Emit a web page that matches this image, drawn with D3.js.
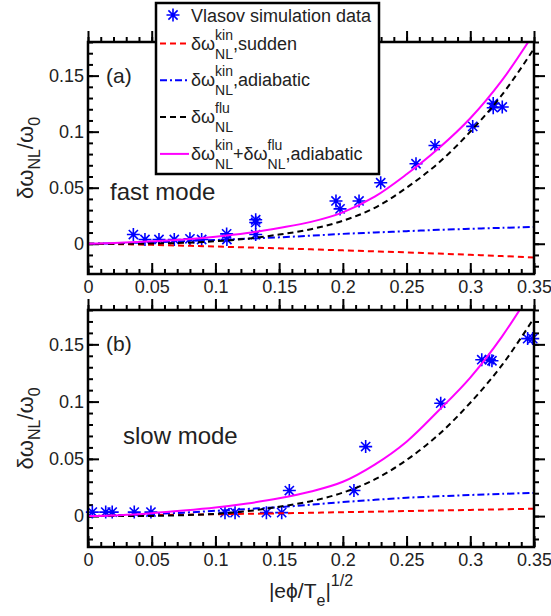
<!DOCTYPE html>
<meta charset="utf-8">
<style>
  body { margin: 0; background: #fff; }
  text { font-family: "Liberation Sans", Arial, Helvetica, sans-serif; fill: #222; }
</style>
<svg width="551" height="616"></svg>
<script src="https://d3js.org/d3.v7.min.js"></script>
<script>

var curveX = [0, 0.025, 0.05, 0.075, 0.1, 0.125, 0.15, 0.175, 0.2, 0.225, 0.25, 0.275, 0.3, 0.325, 0.35];

// (a) fast mode
var fastSudden = [0, -0.0004, -0.001, -0.0017, -0.0025, -0.0033, -0.0041, -0.005, -0.0059, -0.0068, -0.0077, -0.0088, -0.0099, -0.011, -0.0123];
var fastKinAdiab = [0, 0.0005, 0.0013, 0.0023, 0.0033, 0.0045, 0.0057, 0.0072, 0.0088, 0.0100, 0.0112, 0.0124, 0.0133, 0.0142, 0.015];
var fastFlu = [0, 0.00001, 0.00015, 0.0008, 0.0022, 0.0045, 0.0082, 0.013, 0.0205, 0.032, 0.050, 0.072, 0.100, 0.133, 0.174];
var fastSum = [0, 0.0008, 0.0022, 0.0038, 0.0062, 0.0095, 0.0141, 0.0195, 0.028, 0.042, 0.062, 0.085, 0.112, 0.146, 0.188];
var fastSimX = [0.0356, 0.0447, 0.0557, 0.0677, 0.080, 0.0892, 0.1088, 0.109, 0.1316, 0.1316, 0.1316, 0.1946, 0.1978, 0.2127, 0.2297, 0.2574, 0.2723, 0.3019, 0.318, 0.318, 0.3251];
var fastSimY = [0.0082, 0.0038, 0.0038, 0.0038, 0.0044, 0.0038, 0.0088, 0.0038, 0.0214, 0.019, 0.0082, 0.0382, 0.0311, 0.0382, 0.0544, 0.0714, 0.0876, 0.1047, 0.1252, 0.1214, 0.122];

// (b) slow mode
var slowSudden = [0, 0.0004, 0.0008, 0.0012, 0.0016, 0.0020, 0.0024, 0.0029, 0.0034, 0.0039, 0.0044, 0.0049, 0.0054, 0.0059, 0.0064];
var slowKinAdiab = [0, 0.0008, 0.0018, 0.003, 0.0046, 0.0062, 0.0078, 0.0100, 0.0122, 0.0142, 0.016, 0.0173, 0.0184, 0.0194, 0.0203];
var slowFlu = [0, 0.00001, 0.00015, 0.0008, 0.002, 0.0043, 0.0082, 0.013, 0.0205, 0.032, 0.049, 0.071, 0.099, 0.132, 0.173];
var slowSum = [0, 0.0008, 0.0025, 0.0048, 0.0075, 0.011, 0.0155, 0.0215, 0.030, 0.045, 0.065, 0.092, 0.121, 0.157, 0.200];
var slowSimX = [0.0034, 0.0139, 0.019, 0.0363, 0.0494, 0.1075, 0.1154, 0.140, 0.152, 0.158, 0.2087, 0.2179, 0.2768, 0.309, 0.315, 0.317, 0.345, 0.349];
var slowSimY = [0.0035, 0.0035, 0.0035, 0.0035, 0.0035, 0.003, 0.003, 0.003, 0.003, 0.0223, 0.0223, 0.0607, 0.0986, 0.1366, 0.1366, 0.1357, 0.155, 0.155];

var xMajor = [0, 0.05, 0.1, 0.15, 0.2, 0.25, 0.3, 0.35];
var xMinor = d3.range(0, 36).map(function (i) { return i / 100; });
var yMajor = [0, 0.05, 0.1, 0.15];
var yMinor = d3.range(-2, 19).map(function (i) { return i / 100; });

var svg = d3.select("svg");
var left = 88, right = 534;

var x = d3.scaleLinear().domain([0, 0.35]).range([left, right]);

var star = "M-6.5,0L6.5,0M0,-6.5L0,6.5M-4.6,-4.6L4.6,4.6M-4.6,4.6L4.6,-4.6";

var styles = {
    sudden: {stroke: "#ff0000", dash: "6,4"},
    kin: {stroke: "#0000ff", dash: "7,3,2,3"},
    flu: {stroke: "#000000", dash: "6,4"},
    sum: {stroke: "#ff00ff", dash: null}
};

function drawPanel(id, top, bottom, curves, simX, simY, tag, mode, modeX, modeY) {
    var y = d3.scaleLinear().domain([-0.027, 0.18]).range([bottom, top]);
    var g = svg.append("g");

    g.append("clipPath").attr("id", "clip" + id)
        .append("rect").attr("x", left).attr("y", top)
        .attr("width", right - left).attr("height", bottom - top);

    // ticks pointing inward, on all four sides
    function ticks(axis, trans, vals, len, labels) {
        var a = g.append("g").attr("transform", trans)
            .call(axis.tickValues(vals).tickSize(-len).tickPadding(labels ? 6 : 0)
                .tickFormat(labels ? d3.format("") : ""));
        a.select(".domain").remove();
        a.selectAll("line").attr("stroke", "#000").attr("stroke-width", 2);
        a.selectAll("text").style("font-size", "18px").attr("fill", "#222");
        return a;
    }
    ticks(d3.axisBottom(x), "translate(0," + bottom + ")", xMinor, 5, false);
    ticks(d3.axisBottom(x), "translate(0," + bottom + ")", xMajor, 11, true);
    ticks(d3.axisTop(x), "translate(0," + top + ")", xMinor, -5, false);
    ticks(d3.axisTop(x), "translate(0," + top + ")", xMajor, -11, false);
    ticks(d3.axisLeft(y), "translate(" + left + ",0)", yMinor, 5, false);
    ticks(d3.axisLeft(y), "translate(" + left + ",0)", yMajor, 11, true).selectAll("text").attr("x", -4);
    ticks(d3.axisRight(y), "translate(" + right + ",0)", yMinor, -5, false);
    ticks(d3.axisRight(y), "translate(" + right + ",0)", yMajor, -11, false);

    // simulation points
    g.selectAll(".sim").data(simX).enter().append("path")
        .attr("d", star)
        .attr("transform", function (d, i) { return "translate(" + x(d) + "," + y(simY[i]) + ")"; })
        .attr("fill", "none").attr("stroke", "#0000ff").attr("stroke-width", 1.6);

    var line = d3.line()
        .x(function (d, i) { return x(curveX[i]); })
        .y(function (d) { return y(d); })
        .curve(d3.curveCatmullRom.alpha(0.5));

    curves.forEach(function (c) {
        g.append("path").attr("d", line(c.values))
            .attr("clip-path", "url(#clip" + id + ")")
            .attr("fill", "none")
            .attr("stroke", styles[c.key].stroke)
            .attr("stroke-width", 2)
            .attr("stroke-dasharray", styles[c.key].dash);
    });

    g.append("rect").attr("x", left).attr("y", top)
        .attr("width", right - left).attr("height", bottom - top)
        .attr("fill", "none").attr("stroke", "#000").attr("stroke-width", 2.5);

    g.append("text").attr("x", 106).attr("y", y(0.15) + 7).style("font-size", "21px").text(tag);
    g.append("text").attr("x", modeX).attr("y", modeY).style("font-size", "24px").text(mode);

    // y label  δω_NL / ω_0
    var yl = g.append("text")
        .attr("transform", "translate(33," + ((top + bottom) / 2) + ") rotate(-90)")
        .attr("text-anchor", "middle").style("font-size", "22px");
    yl.append("tspan").text("δω");
    yl.append("tspan").attr("dy", 7).style("font-size", "16px").text("NL");
    yl.append("tspan").attr("dy", -7).text("/ω");
    yl.append("tspan").attr("dy", 7).style("font-size", "16px").text("0");
}

drawPanel("a", 42, 274, [
    {key: "sudden", values: fastSudden},
    {key: "kin", values: fastKinAdiab},
    {key: "flu", values: fastFlu},
    {key: "sum", values: fastSum}
], fastSimX, fastSimY, "(a)", "fast mode", 110, 200);

drawPanel("b", 310, 547, [
    {key: "sudden", values: slowSudden},
    {key: "kin", values: slowKinAdiab},
    {key: "flu", values: slowFlu},
    {key: "sum", values: slowSum}
], slowSimX, slowSimY, "(b)", "slow mode", 123, 444);

// x label |eϕ/T_e|^(1/2)
var xl = svg.append("text").attr("x", 311).attr("y", 598)
    .attr("text-anchor", "middle").style("font-size", "21px");
xl.append("tspan").text("|eϕ/T");
xl.append("tspan").attr("dy", 8).style("font-size", "16px").text("e");
xl.append("tspan").attr("dy", -8).text("|");
xl.append("tspan").attr("dy", -12).style("font-size", "16px").text("1/2");

// legend
var legendItems = [
    {key: "sudden", sup: "kin", sub: "NL", rest: ",sudden"},
    {key: "kin", sup: "kin", sub: "NL", rest: ",adiabatic"},
    {key: "flu", sup: "flu", sub: "NL", rest: ""},
    {key: "sum", sup: "kin", sub: "NL", rest: "+", sup2: "flu", sub2: "NL", rest2: ",adiabatic"}
];

var lg = svg.append("g");
lg.append("rect").attr("x", 156).attr("y", 3).attr("width", 223).attr("height", 171)
    .attr("fill", "#fff").attr("stroke", "#000").attr("stroke-width", 2.5);
lg.append("path").attr("d", star).attr("transform", "translate(173,15)")
    .attr("fill", "none").attr("stroke", "#0000ff").attr("stroke-width", 1.6);
lg.append("text").attr("x", 191).attr("y", 22).style("font-size", "18px").text("Vlasov simulation data");

function put(tx, ty, str, size) {
    var t = lg.append("text").attr("x", tx).attr("y", ty).style("font-size", size + "px").text(str);
    return t.node().getComputedTextLength();
}
function omegaTerm(tx, ty, sup, sub) {
    var w = put(tx, ty, "δω", 18);
    var w1 = put(tx + w, ty - 10, sup, 14);
    var w2 = put(tx + w, ty + 9, sub, 14);
    return w + Math.max(w1, w2);
}

legendItems.forEach(function (d, i) {
    var ly = 43.5 + i * 36.8;
    var s = styles[d.key];
    lg.append("line").attr("x1", 160).attr("x2", 189).attr("y1", ly).attr("y2", ly)
        .attr("stroke", s.stroke).attr("stroke-width", 2).attr("stroke-dasharray", s.dash);
    var bx = 191, by = ly + 6;
    bx += omegaTerm(bx, by, d.sup, d.sub);
    if (d.rest) bx += put(bx, by, d.rest, 18);
    if (d.sup2) {
        bx += omegaTerm(bx, by, d.sup2, d.sub2);
        put(bx, by, d.rest2, 18);
    }
});

</script>
